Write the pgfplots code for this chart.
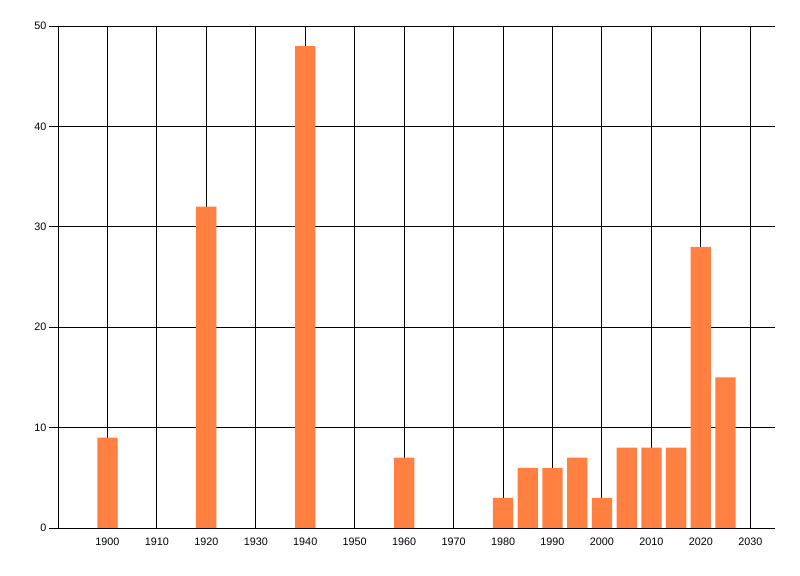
\documentclass[border=0pt]{standalone}
\usepackage{pgfplots}
\pgfplotsset{compat=1.18}
\usepackage{fontspec}
\setmainfont{Liberation Sans}
\definecolor{barorange}{RGB}{255,128,64}
\begin{document}
\begin{tikzpicture}[x=1bp,y=1bp]
\path (0,0) rectangle (800,576);
\begin{axis}[
  at={(58bp,48bp)}, anchor=origin,
  scale only axis,
  width=717bp, height=502bp,
  xmin=1890, xmax=2035,
  ymin=0, ymax=50,
  axis x line*=bottom,
  axis y line*=left,
  axis line style={black, line width=0.9bp, -},
  xtick={1900,1910,...,2030},
  ytick={0,10,...,50},
  grid=major,
  major grid style={black, line width=0.9bp},
  xtick style={draw=none},
  ytick style={black, line width=0.9bp},
  tick align=outside,
  major tick length=9bp,
  /pgf/number format/1000 sep={},
  /pgf/number format/assume math mode=true,
  tick label style={font=\fontsize{10.8bp}{12bp}\selectfont},
  xticklabel style={yshift=3bp},
  yticklabel style={xshift=1bp},
  clip=false,
]
\addplot[ybar, bar width=4.1, bar shift=0pt, fill=barorange, draw=none] coordinates {
(1900,9) (1920,32) (1940,48) (1960,7) (1980,3) (1985,6) (1990,6) (1995,7)
(2000,3) (2005,8) (2010,8) (2015,8) (2020,28) (2025,15)
};
\end{axis}
\end{tikzpicture}
\end{document}
